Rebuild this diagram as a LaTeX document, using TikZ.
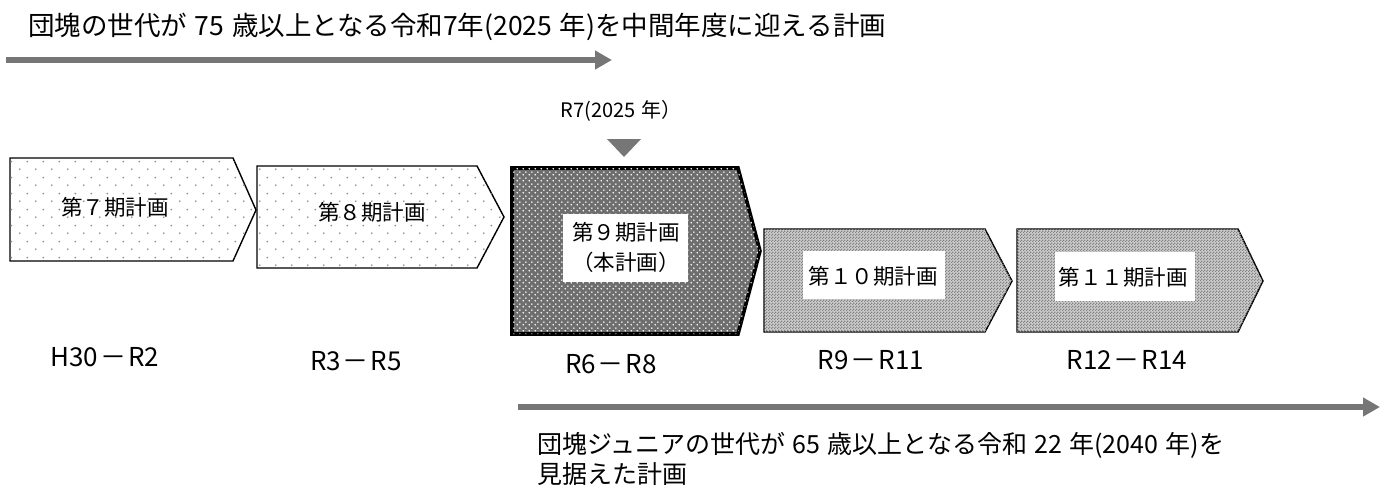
\documentclass[tikz,border=0pt]{standalone}
\usepackage{fontspec}
\setmainfont{Noto Sans CJK JP}
\newfontfamily\capfont{Noto Sans CJK JP}[WordSpace=1.3]
\usetikzlibrary{patterns,arrows.meta}
\definecolor{arrowgray}{HTML}{767676}
\definecolor{dotgray}{HTML}{8C8C8C}
\definecolor{darkfill}{HTML}{6E6E6E}
\definecolor{checklight}{HTML}{CDCDCD}
\definecolor{checkdark}{HTML}{828282}
\pgfdeclarepatternformonly{sparsedots}{\pgfqpoint{0pt}{0pt}}{\pgfqpoint{16pt}{16pt}}{\pgfqpoint{16pt}{16pt}}{%
  \pgfpathcircle{\pgfqpoint{4pt}{4pt}}{1pt}%
  \pgfpathcircle{\pgfqpoint{12pt}{12pt}}{1pt}%
  \pgfusepath{fill}}
\pgfdeclarepatternformonly{densedots}{\pgfqpoint{0pt}{0pt}}{\pgfqpoint{6pt}{6pt}}{\pgfqpoint{6pt}{6pt}}{%
  \pgfpathcircle{\pgfqpoint{1.5pt}{1.5pt}}{1pt}%
  \pgfpathcircle{\pgfqpoint{4.5pt}{4.5pt}}{1pt}%
  \pgfusepath{fill}}
\pgfdeclarepatternformonly{checker}{\pgfqpoint{0pt}{0pt}}{\pgfqpoint{3pt}{3pt}}{\pgfqpoint{3pt}{3pt}}{%
  \pgfpathrectangle{\pgfqpoint{0pt}{0pt}}{\pgfqpoint{1.5pt}{1.5pt}}%
  \pgfpathrectangle{\pgfqpoint{1.5pt}{1.5pt}}{\pgfqpoint{1.5pt}{1.5pt}}%
  \pgfusepath{fill}}
\newcommand{\rdash}{\hspace{2pt}－\hspace{2pt}}
\tikzset{
  lightplan/.style={draw=black, line width=1.4pt, line join=miter, fill=white, postaction={pattern=sparsedots, pattern color=dotgray}},
  mainplan/.style={draw=black, line width=3.6pt, line join=miter, fill=darkfill, postaction={pattern=densedots, pattern color=white}},
  futureplan/.style={draw=black, line width=1.4pt, line join=miter, fill=checklight, postaction={pattern=checker, pattern color=checkdark}},
  plantext/.style={font=\fontsize{21.5}{30}\selectfont, align=center, inner sep=0pt},
  whitebox/.style={fill=white, inner sep=0pt},
  periodtext/.style={font=\fontsize{26}{28}\selectfont, inner sep=0pt},
  titletext/.style={font=\capfont\fontsize{26.5}{29}\selectfont, inner sep=0pt, anchor=west},
  captiontext/.style={font=\capfont\fontsize{25}{29}\selectfont, inner sep=0pt, anchor=west},
  timearrow/.style={draw=arrowgray, line width=5.5pt, -{Triangle[length=17pt,width=18pt]}},
}
\begin{document}
\begin{tikzpicture}[x=1pt,y=-1pt]
\useasboundingbox (0,0) rectangle (1389,493);

% title and top arrow
\node[titletext] (title) at (28,26.5) {団塊の世代が 75 歳以上となる令和7年(2025 年)を中間年度に迎える計画};
\coordinate (ta1) at (6,60);
\coordinate (ta2) at (612,60);
\draw[timearrow] (ta1) -- (ta2);

% R7 marker
\node[font=\capfont\fontsize{20}{22}\selectfont, inner sep=0pt] (r7) at (621,111) {R7(2025 年）};
\coordinate (m1) at (607,139);
\coordinate (m2) at (641,139);
\coordinate (m3) at (624,157);
\fill[arrowgray] (m1) -- (m2) -- (m3) -- cycle;

% plans
\draw[lightplan] (10,158) -- (233,158) -- (256,210) -- (233,261) -- (10,261) -- cycle;
\node[plantext] (p7) at (115,207.5) {第７期計画};

\draw[lightplan] (257,166) -- (477,166) -- (504,217) -- (477,268) -- (257,268) -- cycle;
\node[plantext] (p8) at (372,212) {第８期計画};

\draw[mainplan] (512,168) -- (738,168) -- (760,251) -- (738,334) -- (512,334) -- cycle;
\node[whitebox, minimum width=125pt, minimum height=68pt] (p9box) at (625.5,248) {};
\node[plantext] (p9) at (626,247) {第９期計画\\（本計画）};

\draw[futureplan] (764,229) -- (985,229) -- (1012,281) -- (985,332) -- (764,332) -- cycle;
\node[whitebox, minimum width=142pt, minimum height=48pt] (p10box) at (874,275) {};
\node[plantext] (p10) at (873,276) {第１０期計画};

\draw[futureplan] (1017,229) -- (1238,229) -- (1263,281) -- (1238,332) -- (1017,332) -- cycle;
\node[whitebox, minimum width=140pt, minimum height=49pt] (p11box) at (1125,276.5) {};
\node[plantext] (p11) at (1123,277) {第１１期計画};

% periods
\node[periodtext] (d7) at (105,357) {H30\rdash R2};
\node[periodtext] (d8) at (356,361) {R3\rdash R5};
\node[periodtext] (d9) at (611,364) {R6\rdash R8};
\node[periodtext] (d10) at (871,360) {R9\rdash R11};
\node[periodtext] (d11) at (1127,360) {R12\rdash R14};

% bottom arrow and caption
\coordinate (ba1) at (518,407);
\coordinate (ba2) at (1380,407);
\draw[timearrow] (ba1) -- (ba2);
\node[captiontext] (cap1) at (537,445) {団塊ジュニアの世代が 65 歳以上となる令和 22 年(2040 年)を};
\node[captiontext] (cap2) at (537,474) {見据えた計画};
\end{tikzpicture}
\end{document}
